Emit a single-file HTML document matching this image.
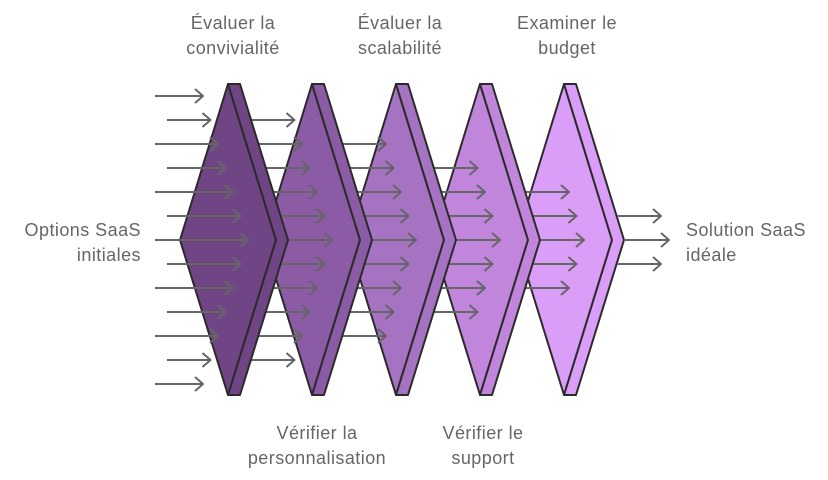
<!DOCTYPE html>
<html><head><meta charset="utf-8"><style>
body{margin:0;background:#fff;width:828px;height:480px;overflow:hidden}
svg{display:block}
text{font-family:"Liberation Sans",sans-serif;font-size:18px;letter-spacing:0.45px;fill:#666}
</style></head><body>
<svg width="828" height="480" viewBox="0 0 828 480" xmlns="http://www.w3.org/2000/svg">
<g stroke-linejoin="round">
<polygon points="564,84 612,240 564,395 516,240" fill="#db9ef8" stroke="#2b2b2b" stroke-width="2"/>
<polygon points="564,84 576,84 624,240 576,395 564,395 612,240" fill="#db9ef8" stroke="#2b2b2b" stroke-width="2"/>
<path fill="none" stroke="#666" stroke-width="2" d="M617 216H661M653 209L661 216L653 223 M624 240H669M661 233L669 240L661 247 M617 264H661M653 257L661 264L653 271"/>
<path fill="none" stroke="#666" stroke-width="2" d="M490 192H569M561 185L569 192L561 199 M490 216H576.5M568.5 209L576.5 216L568.5 223 M490 240H584M576 233L584 240L576 247 M490 264H576.5M568.5 257L576.5 264L568.5 271 M490 288H569M561 281L569 288L561 295"/>
<polygon points="480,84 528,240 480,395 432,240" fill="#c186dc" stroke="#2b2b2b" stroke-width="2"/>
<polygon points="480,84 492,84 540,240 492,395 480,395 528,240" fill="#c186dc" stroke="#2b2b2b" stroke-width="2"/>
<path fill="none" stroke="#666" stroke-width="2" d="M406 168H477.5M469.5 161L477.5 168L469.5 175 M406 192H485M477 185L485 192L477 199 M406 216H492.5M484.5 209L492.5 216L484.5 223 M406 240H500M492 233L500 240L492 247 M406 264H492.5M484.5 257L492.5 264L484.5 271 M406 288H485M477 281L485 288L477 295 M406 312H477.5M469.5 305L477.5 312L469.5 319"/>
<polygon points="396,84 444,240 396,395 348,240" fill="#a672c2" stroke="#2b2b2b" stroke-width="2"/>
<polygon points="396,84 408,84 456,240 408,395 396,395 444,240" fill="#a672c2" stroke="#2b2b2b" stroke-width="2"/>
<path fill="none" stroke="#666" stroke-width="2" d="M322 144H386M378 137L386 144L378 151 M322 168H393.5M385.5 161L393.5 168L385.5 175 M322 192H401M393 185L401 192L393 199 M322 216H408.5M400.5 209L408.5 216L400.5 223 M322 240H416M408 233L416 240L408 247 M322 264H408.5M400.5 257L408.5 264L400.5 271 M322 288H401M393 281L401 288L393 295 M322 312H393.5M385.5 305L393.5 312L385.5 319 M322 336H386M378 329L386 336L378 343"/>
<polygon points="312,84 360,240 312,395 264,240" fill="#8b5ba6" stroke="#2b2b2b" stroke-width="2"/>
<polygon points="312,84 324,84 372,240 324,395 312,395 360,240" fill="#8b5ba6" stroke="#2b2b2b" stroke-width="2"/>
<path fill="none" stroke="#666" stroke-width="2" d="M238 120H294.5M286.5 113L294.5 120L286.5 127 M238 144H302M294 137L302 144L294 151 M238 168H309.5M301.5 161L309.5 168L301.5 175 M238 192H317M309 185L317 192L309 199 M238 216H324.5M316.5 209L324.5 216L316.5 223 M238 240H332M324 233L332 240L324 247 M238 264H324.5M316.5 257L324.5 264L316.5 271 M238 288H317M309 281L317 288L309 295 M238 312H309.5M301.5 305L309.5 312L301.5 319 M238 336H302M294 329L302 336L294 343 M238 360H294.5M286.5 353L294.5 360L286.5 367"/>
<polygon points="228,84 276,240 228,395 180,240" fill="#6f4585" stroke="#2b2b2b" stroke-width="2"/>
<polygon points="228,84 240,84 288,240 240,395 228,395 276,240" fill="#6f4585" stroke="#2b2b2b" stroke-width="2"/>
<path fill="none" stroke="#666" stroke-width="2" d="M155 96H203M195 89L203 96L195 103 M167 120H210.5M202.5 113L210.5 120L202.5 127 M155 144H218M210 137L218 144L210 151 M167 168H225.5M217.5 161L225.5 168L217.5 175 M155 192H233M225 185L233 192L225 199 M167 216H240.5M232.5 209L240.5 216L232.5 223 M155 240H248M240 233L248 240L240 247 M167 264H240.5M232.5 257L240.5 264L232.5 271 M155 288H233M225 281L233 288L225 295 M167 312H225.5M217.5 305L225.5 312L217.5 319 M155 336H218M210 329L218 336L210 343 M167 360H210.5M202.5 353L210.5 360L202.5 367 M155 384H203M195 377L203 384L195 391"/>
</g>
<text x="233" y="29" text-anchor="middle">Évaluer la</text>
<text x="233" y="54" text-anchor="middle">convivialité</text>
<text x="400" y="29" text-anchor="middle">Évaluer la</text>
<text x="400" y="54" text-anchor="middle">scalabilité</text>
<text x="567" y="29" text-anchor="middle">Examiner le</text>
<text x="567" y="54" text-anchor="middle">budget</text>
<text x="317" y="439" text-anchor="middle">Vérifier la</text>
<text x="317" y="464" text-anchor="middle">personnalisation</text>
<text x="483" y="439" text-anchor="middle">Vérifier le</text>
<text x="483" y="464" text-anchor="middle">support</text>
<text x="141" y="236" text-anchor="end">Options SaaS</text>
<text x="141" y="261" text-anchor="end">initiales</text>
<text x="686" y="236">Solution SaaS</text>
<text x="686" y="261">idéale</text>
</svg>
</body></html>
